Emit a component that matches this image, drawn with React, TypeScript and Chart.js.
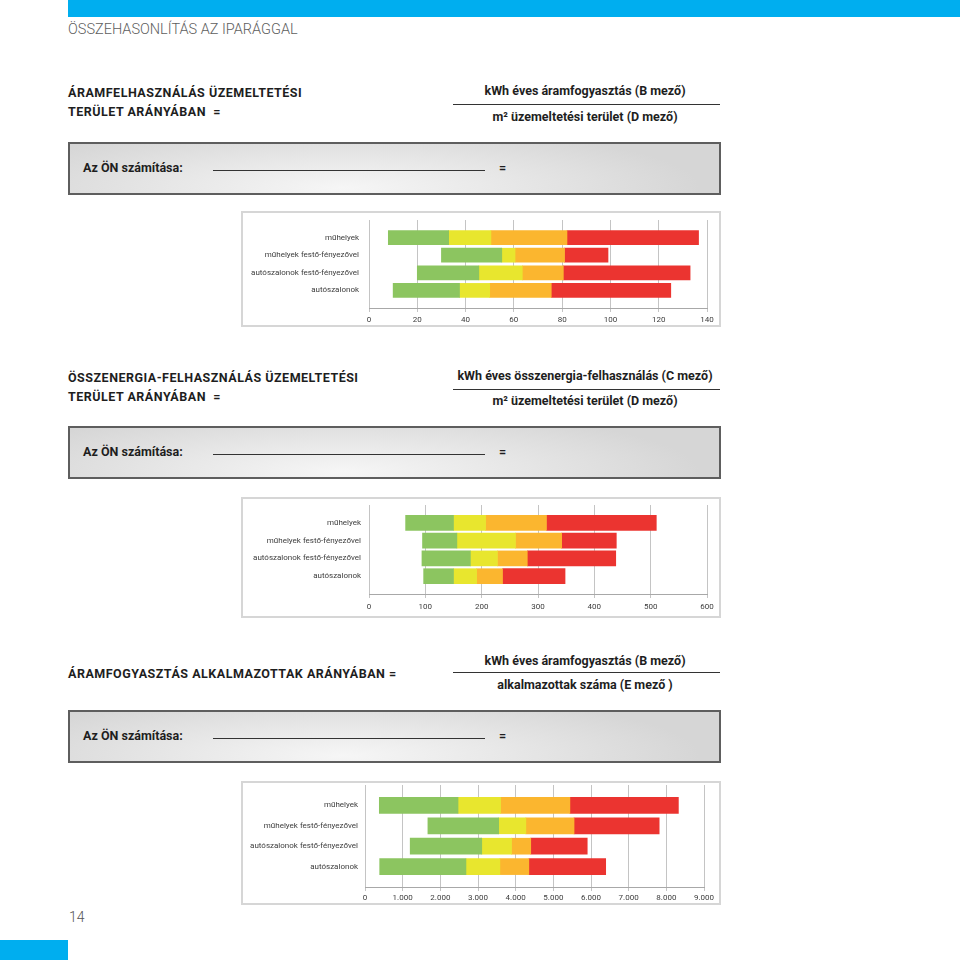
import React, { useEffect, useRef } from "react";
import { Chart, registerables } from "chart.js";

Chart.register(...registerables);

// ---------- data ----------
const categories = [
  "műhelyek",
  "műhelyek festő-fényezővel",
  "autószalonok festő-fényezővel",
  "autószalonok",
];

// Chart 1: áramfelhasználás üzemeltetési terület arányában (kWh/m²)
const power1Start = [8, 30, 20, 10];
const power1Green = [33, 55, 45.5, 37.5];
const power1Yellow = [50.5, 60.5, 63.5, 50];
const power1Orange = [82, 81, 80.5, 75.5];
const power1Red = [136.5, 99, 133, 125];
const power1Ticks = ["0", "20", "40", "60", "80", "100", "120", "140"];

// Chart 2: összenergia-felhasználás üzemeltetési terület arányában (kWh/m²)
const energyStart = [65, 95, 94, 97];
const energyGreen = [150, 156, 180, 150];
const energyYellow = [207, 260, 228, 191];
const energyOrange = [315, 342, 281, 237];
const energyRed = [510, 439, 438, 348];
const energyTicks = ["0", "100", "200", "300", "400", "500", "600"];

// Chart 3: áramfogyasztás alkalmazottak arányában (kWh/fő)
const empStart = [380, 1670, 1200, 390];
const empGreen = [2470, 3550, 3100, 2680];
const empYellow = [3600, 4270, 3890, 3580];
const empOrange = [5440, 5550, 4400, 4350];
const empRed = [8320, 7810, 5900, 6390];
const empTicks = ["0", "1.000", "2.000", "3.000", "4.000", "5.000", "6.000", "7.000", "8.000", "9.000"];

const segmentColors = ["#8cc560", "#e8e62e", "#fbb62f", "#eb3430"];

const FONT = "Roboto, 'Noto Sans', sans-serif";

type ChartProps = {
  left: number;
  top: number;
  width: number;
  height: number;
  bounds: number[][]; // start, green, yellow, orange, red
  max: number;
  step: number;
  tickLabels: string[];
  padTop: number;
  padRight: number;
  yWidth: number;
  xHeight: number;
  tickPad: number;
  yPad: number;
  barThickness: number;
};

function RangeChart(p: ChartProps) {
  const ref = useRef<HTMLCanvasElement | null>(null);
  useEffect(() => {
    if (!ref.current) return;
    const labels = ["", ...categories, ""];
    const datasets = segmentColors.map((color, s) => ({
      label: "s" + s,
      data: [
        null,
        ...categories.map((_, i) => [p.bounds[s][i], p.bounds[s + 1][i]]),
        null,
      ] as any,
      backgroundColor: color,
      borderWidth: 0,
      grouped: false,
      barThickness: p.barThickness,
    }));
    const chart = new Chart(ref.current, {
      type: "bar",
      data: { labels, datasets: datasets as any },
      options: {
        indexAxis: "y",
        animation: false,
        responsive: false,
        maintainAspectRatio: false,
        layout: { padding: { top: p.padTop, right: p.padRight, bottom: 0, left: 0 } },
        plugins: { legend: { display: false }, tooltip: { enabled: false } },
        scales: {
          x: {
            type: "linear",
            min: 0,
            max: p.max,
            ticks: {
              stepSize: p.step,
              autoSkip: false,
              maxRotation: 0,
              padding: p.tickPad,
              color: "#3c3c3c",
              font: { family: FONT, size: 8 },
              callback: (_v: any, i: number) => p.tickLabels[i],
            },
            grid: { color: "#c4c4c4", lineWidth: 1, tickLength: 4 },
            border: { display: true, color: "#a8a8a8", width: 1 },
            afterFit: (s: any) => {
              s.height = p.xHeight;
            },
          },
          y: {
            type: "category",
            offset: false,
            grid: { display: false, drawTicks: false },
            border: { display: false },
            ticks: {
              padding: p.yPad,
              color: "#3c3c3c",
              font: { family: FONT, size: 8 },
              autoSkip: false,
            },
            afterFit: (s: any) => {
              s.width = p.yWidth;
              s.paddingTop = 0;
              s.paddingBottom = 0;
            },
          },
        },
      },
    });
    return () => chart.destroy();
  }, []);
  return (
    <>
      <div
        style={{
          position: "absolute",
          left: p.left,
          top: p.top,
          width: p.width,
          height: p.height,
          boxSizing: "border-box",
          border: "2px solid #d6d6d6",
        }}
      />
      <canvas
        ref={ref}
        width={p.width}
        height={p.height}
        style={{ position: "absolute", left: p.left, top: p.top, width: p.width, height: p.height, display: "block" }}
      />
    </>
  );
}

const abs = (left: number, top: number, extra: React.CSSProperties = {}): React.CSSProperties => ({
  position: "absolute",
  left,
  top,
  ...extra,
});

const headStyle: React.CSSProperties = {
  fontFamily: FONT,
  fontWeight: 700,
  fontSize: 12.5,
  letterSpacing: 0.5,
  color: "#1e1e1e",
  lineHeight: "19px",
  whiteSpace: "nowrap",
};

const fracStyle: React.CSSProperties = {
  fontFamily: FONT,
  fontWeight: 700,
  fontSize: 12.5,
  color: "#1e1e1e",
  lineHeight: "16px",
  whiteSpace: "nowrap",
  width: 264,
  textAlign: "center",
};

function Fraction({ top, num, den, lineY, denTop }: { top: number; num: string; den: string; lineY: number; denTop: number }) {
  return (
    <>
      <div style={{ ...abs(453, top), ...fracStyle }}>{num}</div>
      <div style={abs(453, lineY, { width: 267, height: 1, background: "#333" })} />
      <div style={{ ...abs(453, denTop), ...fracStyle }}>{den}</div>
    </>
  );
}

function CalcBox({ top }: { top: number }) {
  return (
    <div
      style={abs(68, top, {
        width: 653,
        height: 53,
        boxSizing: "border-box",
        border: "2px solid #5e5e5e",
        background: "radial-gradient(ellipse 55% 130% at 42% 90%, #f6f6f6 0%, #e8e8e8 45%, #d6d6d6 100%)",
      })}
    >
      <div
        style={{
          position: "absolute",
          left: 13,
          top: 16,
          fontFamily: FONT,
          fontWeight: 700,
          fontSize: 12.5,
          color: "#1e1e1e",
          lineHeight: "16px",
          whiteSpace: "nowrap",
        }}
      >
        Az ÖN számítása:
      </div>
      <div style={{ position: "absolute", left: 143, top: 26, width: 272, height: 1, background: "#333" }} />
      <div
        style={{
          position: "absolute",
          left: 429,
          top: 16,
          fontFamily: FONT,
          fontWeight: 700,
          fontSize: 12.5,
          color: "#1e1e1e",
          lineHeight: "16px",
        }}
      >
        =
      </div>
    </div>
  );
}

export default function App() {
  return (
    <div style={{ position: "absolute", left: 0, top: 0, width: 960, height: 960, background: "#fff", overflow: "hidden" }}>
      <div style={abs(68, 0, { width: 892, height: 17, background: "#00aeef" })} />
      <div
        style={abs(68, 21, {
          fontFamily: FONT,
          fontWeight: 300,
          fontSize: 14.5,
          color: "#5e5e5e",
          lineHeight: "18px",
          whiteSpace: "nowrap",
        })}
      >
        ÖSSZEHASONLÍTÁS AZ IPARÁGGAL
      </div>

      {/* Section 1 */}
      <div style={{ ...abs(68, 82.5), ...headStyle }}>
        ÁRAMFELHASZNÁLÁS ÜZEMELTETÉSI
        <br />
        TERÜLET ARÁNYÁBAN&nbsp; =
      </div>
      <Fraction top={83} num="kWh éves áramfogyasztás (B mező)" lineY={104} denTop={109} den="m² üzemeltetési terület (D mező)" />
      <CalcBox top={142} />
      <RangeChart
        left={241}
        top={211}
        width={480}
        height={116}
        bounds={[power1Start, power1Green, power1Yellow, power1Orange, power1Red]}
        max={140}
        step={20}
        tickLabels={power1Ticks}
        padTop={9}
        padRight={14}
        yWidth={128}
        xHeight={19}
        tickPad={3}
        yPad={10}
        barThickness={14}
      />

      {/* Section 2 */}
      <div style={{ ...abs(68, 367.5), ...headStyle }}>
        ÖSSZENERGIA-FELHASZNÁLÁS ÜZEMELTETÉSI
        <br />
        TERÜLET ARÁNYÁBAN&nbsp; =
      </div>
      <Fraction top={368} num="kWh éves összenergia-felhasználás (C mező)" lineY={389} denTop={393} den="m² üzemeltetési terület (D mező)" />
      <CalcBox top={426} />
      <RangeChart
        left={241}
        top={497}
        width={480}
        height={121}
        bounds={[energyStart, energyGreen, energyYellow, energyOrange, energyRed]}
        max={600}
        step={100}
        tickLabels={energyTicks}
        padTop={8}
        padRight={14}
        yWidth={128}
        xHeight={24}
        tickPad={4}
        yPad={8}
        barThickness={15}
      />

      {/* Section 3 */}
      <div style={{ ...abs(68, 663.5), ...headStyle }}>ÁRAMFOGYASZTÁS ALKALMAZOTTAK ARÁNYÁBAN =</div>
      <Fraction top={653} num="kWh éves áramfogyasztás (B mező)" lineY={672} denTop={677} den="alkalmazottak száma (E mező )" />
      <CalcBox top={710} />
      <RangeChart
        left={241}
        top={781}
        width={480}
        height={124}
        bounds={[empStart, empGreen, empYellow, empOrange, empRed]}
        max={9000}
        step={1000}
        tickLabels={empTicks}
        padTop={4}
        padRight={17}
        yWidth={124}
        xHeight={18}
        tickPad={2}
        yPad={7}
        barThickness={16}
      />

      <div style={abs(69, 908, { fontFamily: FONT, fontWeight: 300, fontSize: 14, color: "#555", lineHeight: "18px" })}>14</div>
      <div style={abs(0, 940, { width: 68, height: 20, background: "#00aeef" })} />
    </div>
  );
}
